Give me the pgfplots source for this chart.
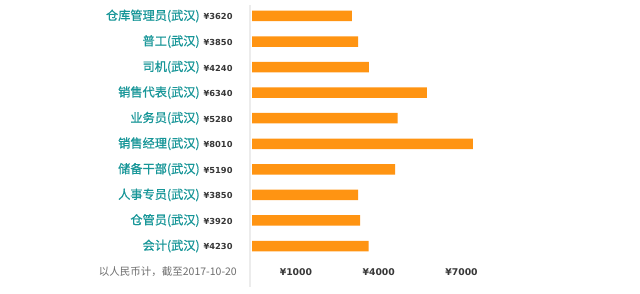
\documentclass[border=0pt]{standalone}
\usepackage{fontspec}
\usepackage{pgfplots}
\pgfplotsset{compat=1.18}
\newfontfamily\cjk{Noto Sans CJK SC}
\newfontfamily\cjkb{Noto Sans CJK SC}[FakeBold=0.7]
\newfontfamily\dv{DejaVu Sans}
\definecolor{tealc}{RGB}{23,150,152}
\definecolor{valc}{RGB}{55,55,55}
\definecolor{barc}{RGB}{255,148,18}
\definecolor{sepc}{RGB}{236,236,236}
\definecolor{notec}{RGB}{110,110,110}
\newcommand\lab[2]{{\cjkb\fontsize{12.2}{12.2}\selectfont\color{tealc}#1}\hspace{4pt}{\dv\bfseries\fontsize{8.3}{8.3}\selectfont\color{valc}¥#2}}
\begin{document}
\begin{tikzpicture}
\path[use as bounding box, fill=white] (0pt,0pt) rectangle (640pt,293pt);
\fill[sepc] (248.5pt,6pt) rectangle (251pt,288pt);
\begin{axis}[
  at={(252pt,34.2pt)}, anchor=south west,
  scale only axis, width=388pt, height=255.6pt,
  xmin=0, xmax=14063,
  ymin=-0.5, ymax=9.5, y dir=reverse,
  axis line style={draw=none},
  tick style={draw=none},
  scaled x ticks=false,
  xbar, bar width=10.5pt,
  ytick={0,...,9},
  yticklabels={
    {\lab{仓库管理员(武汉)}{3620}},
    {\lab{普工(武汉)}{3850}},
    {\lab{司机(武汉)}{4240}},
    {\lab{销售代表(武汉)}{6340}},
    {\lab{业务员(武汉)}{5280}},
    {\lab{销售经理(武汉)}{8010}},
    {\lab{储备干部(武汉)}{5190}},
    {\lab{人事专员(武汉)}{3850}},
    {\lab{仓管员(武汉)}{3920}},
    {\lab{会计(武汉)}{4230}}},
  yticklabel style={anchor=east, inner sep=0pt, xshift=-15pt},
  xtick={1000,4000,7000},
  xticklabels={¥1000,¥4000,¥7000},
  xticklabel style={anchor=west, inner sep=0pt, yshift=-13pt, font=\dv\bfseries\fontsize{9.3}{9.3}\selectfont, text=valc},
  clip=false,
]
\addplot[fill=barc, draw=none] coordinates {
  (3620,0) (3850,1) (4240,2) (6340,3) (5280,4)
  (8010,5) (5190,6) (3850,7) (3920,8) (4230,9)};
\end{axis}
\node[anchor=east, inner sep=0pt, text=notec, font=\cjk\fontsize{10.5}{10.5}\selectfont] at (237pt,21pt) {以人民币计，截至2017-10-20};
\end{tikzpicture}
\end{document}
